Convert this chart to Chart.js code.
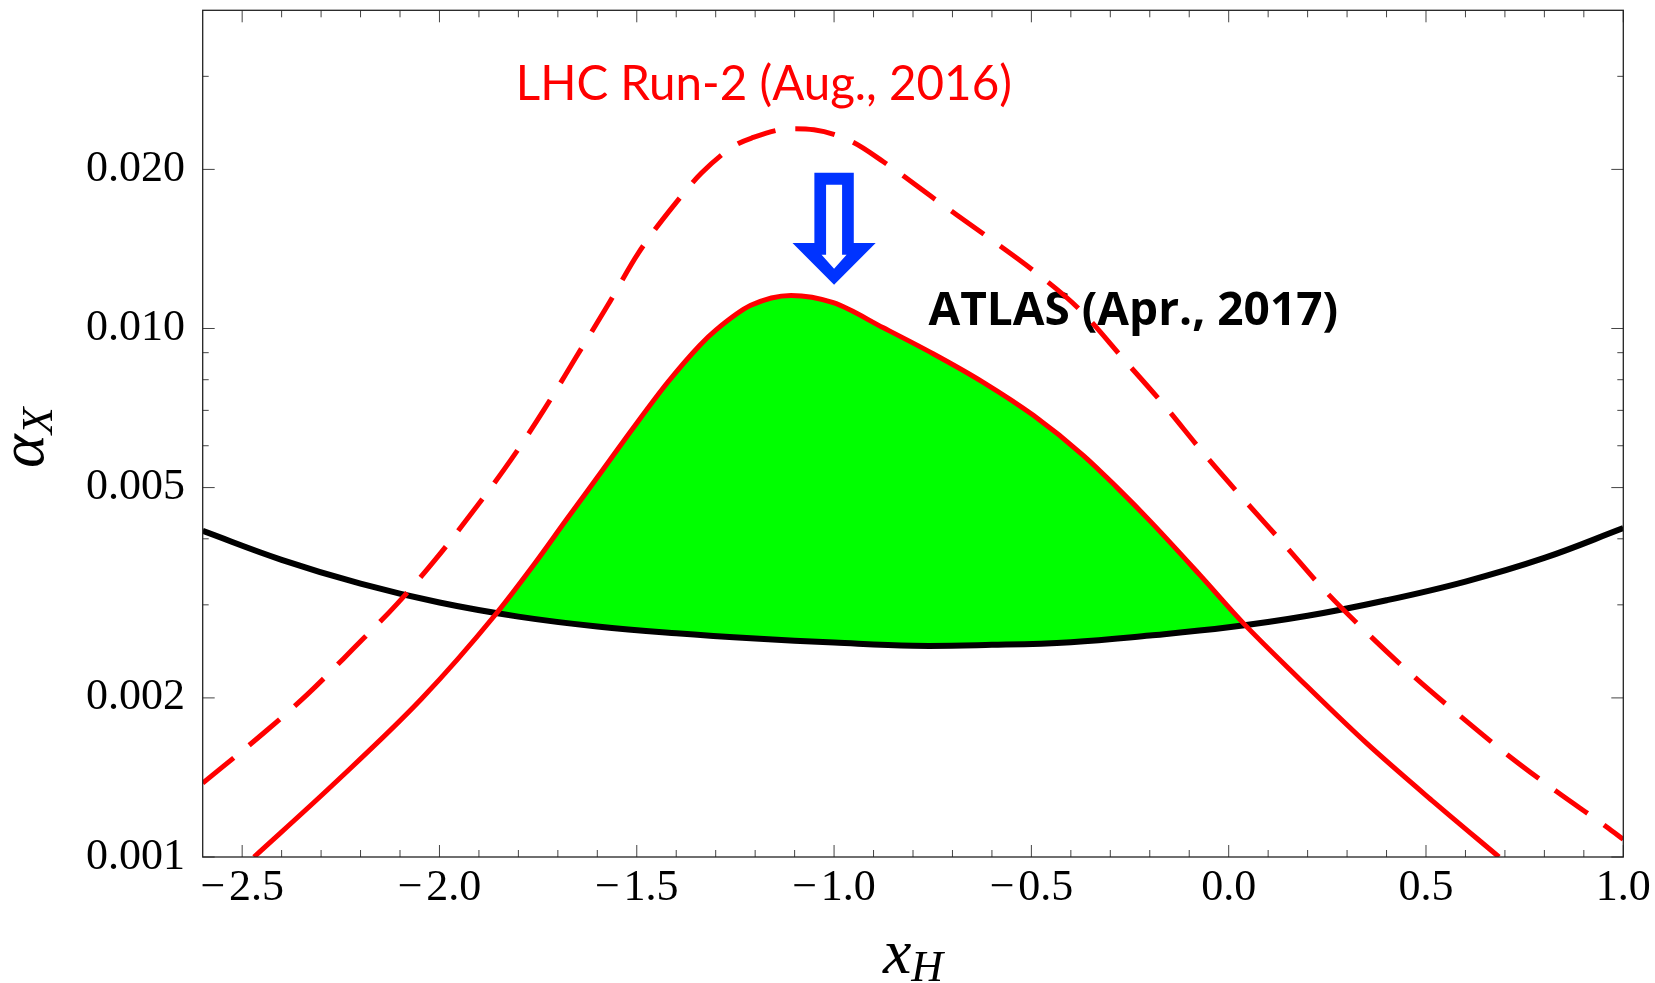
<!DOCTYPE html>
<html>
<head>
<meta charset="utf-8">
<script src="https://cdn.jsdelivr.net/npm/chart.js@4.4.1/dist/chart.umd.min.js"></script>
<style>
  html, body { margin: 0; padding: 0; background: #fff; }
</style>
</head>
<body>
<canvas id="grafico" width="1655" height="983"></canvas>
<script>
// --- 1. DATI ---
// curva ATLAS (nera)
const atlasX = [-2.6, -2.4, -2.2, -2.0, -1.8, -1.6, -1.4, -1.2, -1.0, -0.8, -0.6, -0.4, -0.2, 0.0, 0.2, 0.4, 0.6, 0.8, 1.0];
const atlasY = [0.00414, 0.00365, 0.00329, 0.00303, 0.00285, 0.00273, 0.00265, 0.00259, 0.002545, 0.00251,
                0.00252, 0.00255, 0.002625, 0.00272, 0.00286, 0.00306, 0.00332, 0.00368, 0.00419];

// limite attuale (rossa continua, bordo della zona verde)
const limiteX = [-2.470, -2.270, -2.046, -1.859, -1.760, -1.679, -1.591, -1.510, -1.421, -1.340, -1.299, -1.211,
                 -1.109, -1.002, -0.875, -0.749, -0.622, -0.495, -0.368, -0.284, -0.199, -0.072, 0.037, 0.18,
                 0.35, 0.52, 0.685];
const limiteY = [0.00100, 0.00137, 0.00199, 0.00287, 0.00358, 0.00434, 0.00534, 0.00647, 0.00792, 0.00930,
                 0.00994, 0.01106, 0.01155, 0.01119, 0.01003, 0.00896, 0.00791, 0.00685, 0.00575, 0.00501,
                 0.00432, 0.00341, 0.00277, 0.00217, 0.00164, 0.00127, 0.00100];

// LHC Run-2 (rossa tratteggiata)
const lhcX = [-2.600, -2.444, -2.332, -2.218, -2.108, -2.007, -1.912, -1.819, -1.735, -1.654, -1.574, -1.496,
              -1.403, -1.336, -1.255, -1.209, -1.110, -1.051, -0.956, -0.875, -0.746, -0.617, -0.491, -0.377,
              -0.265, -0.163, -0.064, 0.037, 0.141, 0.244, 0.354, 0.468, 0.586, 0.707, 0.831, 0.958, 1.0];
const lhcY = [0.00138, 0.00172, 0.00204, 0.00248, 0.00301, 0.00368, 0.00454, 0.00564, 0.00702, 0.00882,
              0.01105, 0.01389, 0.01721, 0.01968, 0.02211, 0.02293, 0.02388, 0.02377, 0.02259, 0.02068,
              0.01760, 0.01501, 0.01280, 0.01085, 0.00873, 0.00715, 0.00581, 0.00476, 0.00390, 0.00319,
              0.00264, 0.00220, 0.00185, 0.00156, 0.00133, 0.00114, 0.00108];

// tacche degli assi
const yMajorTicks = [0.001, 0.002, 0.005, 0.010, 0.020];
const yMinorTicks = [0.003, 0.004, 0.006, 0.007, 0.008, 0.009, 0.03];
const xMajorTicks = [-2.5, -2.0, -1.5, -1.0, -0.5, 0.0, 0.5, 1.0];
const xMinorTicks = [];
xMajorTicks.forEach(m => {
  for (let k = 1; k < 5; k++) {
    const v = +(m + k * 0.1).toFixed(1);
    if (v < 1.0) xMinorTicks.push(v);
  }
});

// --- 2. ANNOTAZIONI ---
const etichettaLHC = { testo: 'LHC Run-2 (Aug., 2016)', x: -1.178, y: 0.0271 };
const etichettaATLAS = { testo: 'ATLAS (Apr., 2017)', x: -0.761, y: 0.01016 };
const freccia = { x: -1.0, top: 0.0197, tip: 0.0121 };

const punti = (xs, ys) => xs.map((x, i) => ({ x, y: ys[i] }));

function etichettaX(v) {
  if (Math.abs(v) < 1e-9) return '0.0';
  return (v < 0 ? '\u2212\u200a' : '') + Math.abs(v).toFixed(1);
}

// --- 3. PLUGIN: cornice, tacche interne, titoli, freccia ---
const cornice = {
  id: 'cornice',
  beforeDatasetsDraw(chart) {
    const { ctx, scales: { x, y } } = chart;
    ctx.save();

    // freccia blu vuota
    const cx = x.getPixelForValue(freccia.x);
    const top = y.getPixelForValue(freccia.top);
    const tip = y.getPixelForValue(freccia.tip);
    ctx.fillStyle = '#0033ff';
    ctx.beginPath();
    ctx.moveTo(cx - 19.7, top);
    ctx.lineTo(cx + 19.7, top);
    ctx.lineTo(cx + 19.7, tip - 41.7);
    ctx.lineTo(cx + 41.6, tip - 41.7);
    ctx.lineTo(cx, tip);
    ctx.lineTo(cx - 41.6, tip - 41.7);
    ctx.lineTo(cx - 19.7, tip - 41.7);
    ctx.closePath();
    ctx.fill();
    ctx.fillStyle = '#fff';
    ctx.beginPath();
    ctx.moveTo(cx - 8, top + 12);
    ctx.lineTo(cx + 8, top + 12);
    ctx.lineTo(cx + 8, tip - 30);
    ctx.lineTo(cx + 12.5, tip - 30);
    ctx.lineTo(cx, tip - 16);
    ctx.lineTo(cx - 12.5, tip - 30);
    ctx.lineTo(cx - 8, tip - 30);
    ctx.closePath();
    ctx.fill();

    // etichette delle curve
    ctx.textBaseline = 'alphabetic';
    ctx.fillStyle = '#ff0000';
    ctx.font = '47.5px Lato';
    ctx.textAlign = 'center';
    ctx.fillText(etichettaLHC.testo, x.getPixelForValue(etichettaLHC.x), y.getPixelForValue(etichettaLHC.y));
    ctx.fillStyle = '#000';
    ctx.font = 'bold 46px "Open Sans"';
    ctx.textAlign = 'left';
    ctx.fillText(etichettaATLAS.testo, x.getPixelForValue(etichettaATLAS.x), y.getPixelForValue(etichettaATLAS.y));
    ctx.restore();
  },
  afterDatasetsDraw(chart) {
    const { ctx, chartArea: a, scales: { x, y } } = chart;
    ctx.save();

    // tacche verso l'interno su tutti e quattro i lati
    ctx.strokeStyle = '#444';
    ctx.lineWidth = 1;
    ctx.beginPath();
    const tacX = (v, len) => {
      const px = x.getPixelForValue(v);
      ctx.moveTo(px, a.bottom); ctx.lineTo(px, a.bottom - len);
      ctx.moveTo(px, a.top); ctx.lineTo(px, a.top + len);
    };
    const tacY = (v, len) => {
      const py = y.getPixelForValue(v);
      ctx.moveTo(a.left, py); ctx.lineTo(a.left + len, py);
      ctx.moveTo(a.right, py); ctx.lineTo(a.right - len, py);
    };
    xMajorTicks.forEach(v => tacX(v, 12));
    xMinorTicks.forEach(v => tacX(v, 7));
    yMajorTicks.forEach(v => tacY(v, 12));
    yMinorTicks.forEach(v => tacY(v, 6));
    ctx.stroke();

    // cornice
    ctx.strokeStyle = '#222';
    ctx.lineWidth = 1.3;
    ctx.strokeRect(a.left, a.top, a.right - a.left, a.bottom - a.top);

    // titolo asse x: x_H
    ctx.fillStyle = '#000';
    ctx.textBaseline = 'alphabetic';
    ctx.textAlign = 'left';
    const grande = 'italic 64px "Liberation Serif"';
    const piccolo = 'italic 44px "Liberation Serif"';
    ctx.font = grande;
    const wx = ctx.measureText('x').width;
    ctx.font = piccolo;
    const wh = ctx.measureText('H').width;
    const mx = (a.left + a.right) / 2 - (wx + wh) / 2;
    ctx.font = grande;
    ctx.fillText('x', mx, 973);
    ctx.font = piccolo;
    ctx.fillText('H', mx + wx, 981);

    // titolo asse y: alpha_X (ruotato)
    ctx.save();
    const my = (a.top + a.bottom) / 2 + 4;
    ctx.translate(43, my);
    ctx.rotate(-Math.PI / 2);
    ctx.font = grande;
    const wa = ctx.measureText('\u03b1').width;
    ctx.font = piccolo;
    const wX = ctx.measureText('X').width;
    const sx = -(wa + wX) / 2;
    ctx.font = grande;
    ctx.fillText('\u03b1', sx, 0);
    ctx.font = piccolo;
    ctx.fillText('X', sx + wa, 9);
    ctx.restore();

    ctx.restore();
  }
};

// --- 4. GRAFICO ---
const ctx = document.getElementById('grafico').getContext('2d');
new Chart(ctx, {
  type: 'line',
  data: {
    datasets: [
      {
        label: 'ATLAS (Apr., 2017)',
        data: punti(atlasX, atlasY),
        borderColor: '#000',
        borderWidth: 6,
        cubicInterpolationMode: 'default',
        tension: 0.4,
        fill: false,
        order: 3
      },
      {
        label: 'limite',
        data: punti(limiteX, limiteY),
        borderColor: '#ff0000',
        borderWidth: 5,
        fill: { target: 0, above: '#00ff00', below: 'rgba(0,0,0,0)' },
        order: 2
      },
      {
        label: 'LHC Run-2 (Aug., 2016)',
        data: punti(lhcX, lhcY),
        borderColor: '#ff0000',
        borderWidth: 5,
        borderDash: [40, 20],
        fill: false,
        order: 1
      }
    ]
  },
  options: {
    responsive: false,
    animation: false,
    devicePixelRatio: 1,
    layout: { padding: { top: 10.3, right: 31.7, left: 0, bottom: 0 } },
    elements: {
      point: { radius: 0 },
      line: { cubicInterpolationMode: 'monotone' }
    },
    plugins: {
      legend: { display: false },
      tooltip: { enabled: false },
      filler: { drawTime: 'beforeDatasetsDraw' }
    },
    scales: {
      x: {
        type: 'linear',
        min: -2.6,
        max: 1.0,
        afterBuildTicks: s => { s.ticks = xMajorTicks.map(v => ({ value: v })); },
        afterFit: s => { s.height = 126; s.paddingLeft = 0; s.paddingRight = 0; },
        grid: { display: false, drawTicks: false },
        border: { display: false },
        ticks: {
          autoSkip: false,
          maxRotation: 0,
          padding: 5,
          color: '#000',
          font: { family: 'Liberation Serif', size: 44 },
          callback: v => etichettaX(v)
        }
      },
      y: {
        type: 'logarithmic',
        min: 0.001,
        max: 0.04,
        afterBuildTicks: s => {
          s.ticks = [...yMajorTicks, ...yMinorTicks].sort((p, q) => p - q).map(v => ({ value: v }));
        },
        afterFit: s => { s.width = 202.7; s.paddingTop = 0; s.paddingBottom = 0; },
        grid: { display: false, drawTicks: false },
        border: { display: false },
        ticks: {
          autoSkip: false,
          padding: 17.7,
          color: '#000',
          font: { family: 'Liberation Serif', size: 44 },
          callback: v => yMajorTicks.includes(v) ? v.toFixed(3) : ''
        }
      }
    }
  },
  plugins: [cornice]
});
</script>
</body>
</html>
